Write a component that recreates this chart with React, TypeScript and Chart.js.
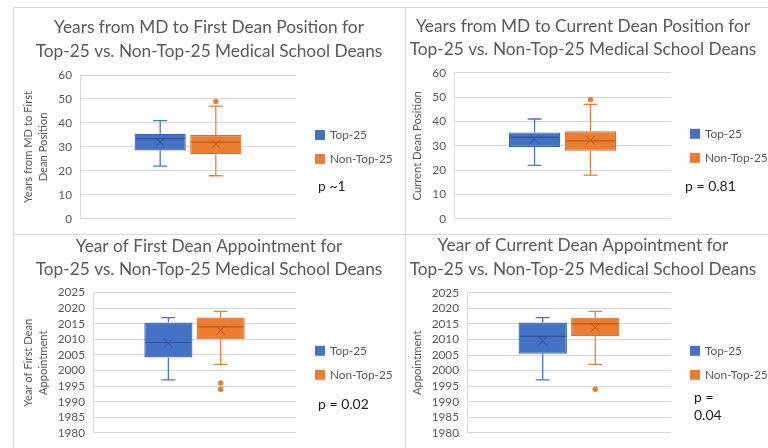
import React, { useEffect, useRef } from 'react';
import { Chart, registerables } from 'chart.js';

Chart.register(...registerables);

// ---------- data ----------
const GROUPS = ['Top-25', 'Non-Top-25'];

// Panel 1: Years from MD to First Dean Position
const p1Min = [22, 18];
const p1Q1 = [28.5, 27];
const p1Median = [33.5, 32];
const p1Q3 = [35.5, 35];
const p1Max = [41, 47];
const p1Mean = [32, 31.2];
const p1Outliers = [[], [49]];
const p1P = ['p ~1'];

// Panel 2: Years from MD to Current Dean Position
const p2Min = [22, 18];
const p2Q1 = [29.5, 28];
const p2Median = [33.5, 32];
const p2Q3 = [35.5, 36];
const p2Max = [41, 47];
const p2Mean = [32.8, 32.3];
const p2Outliers = [[], [49]];
const p2P = ['p = 0.81'];

// Panel 3: Year of First Dean Appointment
const p3Min = [1997, 2002];
const p3Q1 = [2004.2, 2010];
const p3Median = [2009, 2014];
const p3Q3 = [2015.4, 2017];
const p3Max = [2017, 2019];
const p3Mean = [2008.8, 2012.9];
const p3Outliers = [[], [1996, 1994]];
const p3P = ['p = 0.02'];

// Panel 4: Year of Current Dean Appointment
const p4Min = [1997, 2002];
const p4Q1 = [2005.4, 2011];
const p4Median = [2011, 2015];
const p4Q3 = [2015.4, 2017];
const p4Max = [2017, 2019];
const p4Mean = [2009.5, 2013.8];
const p4Outliers = [[], [1994]];
const p4P = ['p =', '0.04'];

// tick labels
const yearsTicks = [0, 10, 20, 30, 40, 50, 60];
const yearTicks = [1980, 1985, 1990, 1995, 2000, 2005, 2010, 2015, 2020, 2025];

// ---------- styles ----------
const FILL = ['#4472C4', '#ED7D31'];
const EDGE = ['#3A63AE', '#D86E27'];
const WHISK = ['#4A76C6', '#E9803D'];
const DARK = ['#2F528F', '#B55A1C'];
const GREY = '#595959';
const GRID = '#D9D9D9';
const FONT = 'Lato, "Open Sans", sans-serif';

type PanelCfg = {
  title: string[];
  yTitle: string | string[];
  ticks: number[];
  min: number[]; q1: number[]; median: number[]; q3: number[]; max: number[]; mean: number[];
  outliers: number[][];
  pText: string[];
  width: number; height: number;
  yWidth: number; yTitlePad: number;
  rightWidth: number; padRight: number; padBottom: number;
  titleTop: number; titleBottom: number;
  pDx: number; pDy: number[];
};

function makeBoxPlugin(cfg: PanelCfg) {
  return {
    id: 'boxWhiskers',
    afterDatasetsDraw(chart: any) {
      const ctx = chart.ctx;
      const ys = chart.scales.y;
      const py = (v: number) => ys.getPixelForValue(v);
      chart.data.datasets.forEach((_ds: any, i: number) => {
        const el = chart.getDatasetMeta(i).data[0];
        if (!el) return;
        const { x, width } = el.getProps(['x', 'width'], true);
        const cap = 7;
        ctx.save();
        ctx.lineWidth = 1.3;
        ctx.strokeStyle = WHISK[i];
        ctx.beginPath();
        ctx.moveTo(x, py(cfg.q3[i])); ctx.lineTo(x, py(cfg.max[i]));
        ctx.moveTo(x - cap, py(cfg.max[i])); ctx.lineTo(x + cap, py(cfg.max[i]));
        ctx.moveTo(x, py(cfg.q1[i])); ctx.lineTo(x, py(cfg.min[i]));
        ctx.moveTo(x - cap, py(cfg.min[i])); ctx.lineTo(x + cap, py(cfg.min[i]));
        ctx.stroke();
        // median
        ctx.strokeStyle = DARK[i];
        ctx.lineWidth = 1.2;
        ctx.beginPath();
        ctx.moveTo(x - width / 2 + 1, py(cfg.median[i]));
        ctx.lineTo(x + width / 2 - 1, py(cfg.median[i]));
        ctx.stroke();
        // mean marker
        const m = py(cfg.mean[i]);
        const s = 4.5;
        ctx.lineWidth = 1;
        ctx.beginPath();
        ctx.moveTo(x - s, m - s); ctx.lineTo(x + s, m + s);
        ctx.moveTo(x - s, m + s); ctx.lineTo(x + s, m - s);
        ctx.stroke();
        // outliers
        ctx.fillStyle = FILL[i];
        cfg.outliers[i].forEach((v) => {
          ctx.beginPath();
          ctx.arc(x, py(v), 2.7, 0, Math.PI * 2);
          ctx.fill();
        });
        ctx.restore();
      });
    },
  };
}

function makeLegendPlugin(cfg: PanelCfg) {
  return {
    id: 'sideLegend',
    afterDraw(chart: any) {
      const ctx = chart.ctx;
      const ca = chart.chartArea;
      const cy = (ca.top + ca.bottom) / 2;
      const bx = ca.right + 19;
      ctx.save();
      GROUPS.forEach((g, i) => {
        const yy = cy + (i === 0 ? -12 : 12);
        ctx.fillStyle = FILL[i];
        ctx.fillRect(bx, yy - 5, 10, 10);
        ctx.fillStyle = GREY;
        ctx.font = `11.8px ${FONT}`;
        ctx.textBaseline = 'middle';
        ctx.textAlign = 'left';
        ctx.fillText(g, bx + 15, yy);
      });
      ctx.fillStyle = '#1E1E1E';
      ctx.font = `14px ${FONT}`;
      ctx.textBaseline = 'middle';
      cfg.pText.forEach((t, k) => {
        ctx.fillText(t, bx + cfg.pDx, cy + cfg.pDy[k]);
      });
      ctx.restore();
    },
  };
}

function BoxPanel({ cfg }: { cfg: PanelCfg }) {
  const ref = useRef<HTMLCanvasElement>(null);
  useEffect(() => {
    if (!ref.current) return;
    const tks = cfg.ticks;
    const chart = new Chart(ref.current, {
      type: 'bar',
      data: {
        labels: [''],
        datasets: GROUPS.map((g, i) => ({
          label: g,
          data: [[cfg.q1[i], cfg.q3[i]]] as any,
          backgroundColor: FILL[i],
          borderColor: EDGE[i],
          borderWidth: 1.2,
          borderSkipped: false,
          categoryPercentage: 0.515,
          barPercentage: 0.92,
        })),
      },
      options: {
        responsive: false,
        animation: false,
        devicePixelRatio: 1,
        events: [],
        layout: { padding: { left: 0, top: 0, right: cfg.padRight, bottom: cfg.padBottom } },
        plugins: {
          legend: { display: false },
          tooltip: { enabled: false },
          title: {
            display: true,
            text: cfg.title,
            color: GREY,
            font: { family: FONT, size: 17.3, weight: 'normal', lineHeight: '23.5px' },
            padding: { top: cfg.titleTop, bottom: cfg.titleBottom },
          },
        },
        scales: {
          x: { display: false },
          y: {
            min: tks[0],
            max: tks[tks.length - 1],
            afterBuildTicks: (s: any) => { s.ticks = tks.map((v) => ({ value: v })); },
            ticks: {
              autoSkip: false,
              color: GREY,
              font: { family: FONT, size: 11.8 },
              padding: 8,
              callback: (v: any) => String(v),
            },
            grid: { color: GRID, drawTicks: false, lineWidth: 1 },
            border: { color: GRID },
            title: {
              display: true,
              text: cfg.yTitle,
              color: GREY,
              font: { family: FONT, size: 11.2, lineHeight: '15px' },
              padding: { top: cfg.yTitlePad, bottom: 0 },
            },
            afterFit: (s: any) => { s.width = cfg.yWidth; },
          },
          yRight: {
            type: 'linear',
            position: 'right',
            display: true,
            grid: { display: false, drawTicks: false },
            border: { display: false },
            ticks: { display: false },
            afterFit: (s: any) => { s.width = cfg.rightWidth; },
          },
        },
      } as any,
      plugins: [makeBoxPlugin(cfg), makeLegendPlugin(cfg)],
    });
    return () => chart.destroy();
  }, [cfg]);
  return <canvas ref={ref} width={cfg.width} height={cfg.height} style={{ display: 'block', width: cfg.width, height: cfg.height }} />;
}

const TITLE_TAIL = 'Top-25 vs. Non-Top-25 Medical School Deans';

const panels: { left: number; top: number; cfg: PanelCfg }[] = [
  {
    left: 13, top: 7,
    cfg: {
      title: ['Years from MD to First Dean Position for', TITLE_TAIL],
      yTitle: ['Years from MD to First', 'Dean Position'],
      ticks: yearsTicks,
      min: p1Min, q1: p1Q1, median: p1Median, q3: p1Q3, max: p1Max, mean: p1Mean, outliers: p1Outliers,
      pText: p1P,
      width: 392, height: 227,
      yWidth: 67, yTitlePad: 7.5, rightWidth: 109, padRight: 0, padBottom: 14,
      titleTop: 9, titleBottom: 12,
      pDx: 3, pDy: [39.5],
    },
  },
  {
    left: 405, top: 7,
    cfg: {
      title: ['Years from MD to Current Dean Position for', TITLE_TAIL],
      yTitle: 'Current Dean Position',
      ticks: yearsTicks,
      min: p2Min, q1: p2Q1, median: p2Median, q3: p2Q3, max: p2Max, mean: p2Mean, outliers: p2Outliers,
      pText: p2P,
      width: 363, height: 227,
      yWidth: 49, yTitlePad: 4.5, rightWidth: 90, padRight: 7, padBottom: 14,
      titleTop: 7.5, titleBottom: 11.2,
      pDx: -5, pDy: [40.5],
    },
  },
  {
    left: 13, top: 234,
    cfg: {
      title: ['Year of First Dean Appointment for', TITLE_TAIL],
      yTitle: ['Year of First Dean', 'Appointment'],
      ticks: yearTicks,
      min: p3Min, q1: p3Q1, median: p3Median, q3: p3Q3, max: p3Max, mean: p3Mean, outliers: p3Outliers,
      pText: p3P,
      width: 392, height: 214,
      yWidth: 80, yTitlePad: 7.5, rightWidth: 109, padRight: 0, padBottom: 9.7,
      titleTop: 0.6, titleBottom: 11,
      pDx: 3, pDy: [41.5],
    },
  },
  {
    left: 405, top: 234,
    cfg: {
      title: ['Year of Current Dean Appointment for', TITLE_TAIL],
      yTitle: 'Appointment',
      ticks: yearTicks,
      min: p4Min, q1: p4Q1, median: p4Median, q3: p4Q3, max: p4Max, mean: p4Mean, outliers: p4Outliers,
      pText: p4P,
      width: 363, height: 214,
      yWidth: 62, yTitlePad: 4.5, rightWidth: 90, padRight: 7, padBottom: 9.7,
      titleTop: 0, titleBottom: 11.7,
      pDx: 4, pDy: [35, 52.5],
    },
  },
];

export default function App() {
  const line = (style: React.CSSProperties) => (
    <div style={{ position: 'absolute', background: GRID, ...style }} />
  );
  return (
    <div style={{ position: 'absolute', left: 0, top: 0, width: 768, height: 448, background: '#fff', overflow: 'hidden' }}>
      {panels.map((p, i) => (
        <div key={i} style={{ position: 'absolute', left: p.left, top: p.top }}>
          <BoxPanel cfg={p.cfg} />
        </div>
      ))}
      {line({ left: 13, top: 7, width: 755, height: 1 })}
      {line({ left: 13, top: 7, width: 1, height: 441 })}
      {line({ left: 405, top: 7, width: 1, height: 441 })}
      {line({ left: 13, top: 234, width: 755, height: 1 })}
    </div>
  );
}
